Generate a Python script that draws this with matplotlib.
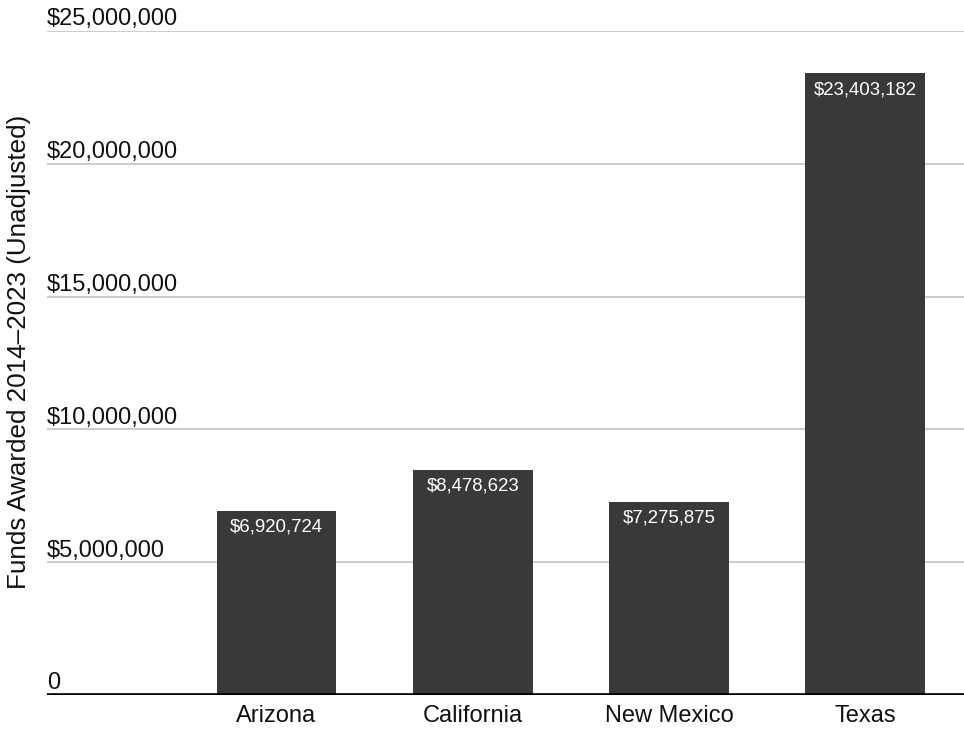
import matplotlib
matplotlib.use('Agg')
import matplotlib.pyplot as plt
import matplotlib.transforms as mtransforms

plt.rcParams['font.family'] = ['Liberation Sans', 'DejaVu Sans']

states = ['Arizona', 'California', 'New Mexico', 'Texas']
funds = [6920724, 8478623, 7275875, 23403182]
y_ticks = [0, 5000000, 10000000, 15000000, 20000000, 25000000]
y_tick_labels = ['0', '$5,000,000', '$10,000,000', '$15,000,000', '$20,000,000', '$25,000,000']

fig = plt.figure(figsize=(9.64, 7.29), dpi=100)
ax = fig.add_axes([47 / 964, 1 - 695 / 729, 1 - 47 / 964, (695 - 31) / 729])

x = list(range(len(states)))
bars = ax.bar(x, funds, width=0.611, color='#393939', zorder=3)

ax.set_xlim(-1.169, 3.502)
ax.set_ylim(0, 25000000)

# gridlines with labels sitting just above each line
for v, lab in zip(y_ticks, y_tick_labels):
    if v > 0:
        ax.axhline(v, color='#cccccc', linewidth=1.4, zorder=1)
    off = mtransforms.ScaledTranslation(0, 4 / 72, fig.dpi_scale_trans)
    ax.text(0, v, lab, transform=ax.get_yaxis_transform() + off,
            ha='left', va='baseline', fontsize=17, color='#111111', clip_on=False)
ax.axhline(0, color='black', linewidth=2.6, zorder=4)

# value labels inside the top of each bar
for rect, val in zip(bars, funds):
    off = mtransforms.ScaledTranslation(0, -5.5 / 72, fig.dpi_scale_trans)
    ax.text(rect.get_x() + rect.get_width() / 2, val, f'${val:,}',
            transform=ax.transData + off, ha='center', va='top',
            fontsize=13.4, color='white', zorder=5)

ax.set_xticks(x)
ax.set_xticklabels(states, fontsize=17, color='#111111')
ax.tick_params(axis='x', length=0, pad=7)
ax.set_yticks([])
for s in ax.spines.values():
    s.set_visible(False)

fig.text(19 / 964, 1 - 352 / 729, 'Funds Awarded 2014\u20132023 (Unadjusted)',
         rotation=90, ha='center', va='center', fontsize=18.7, color='#111111')

fig.savefig('out.png', dpi=100, facecolor='white')
